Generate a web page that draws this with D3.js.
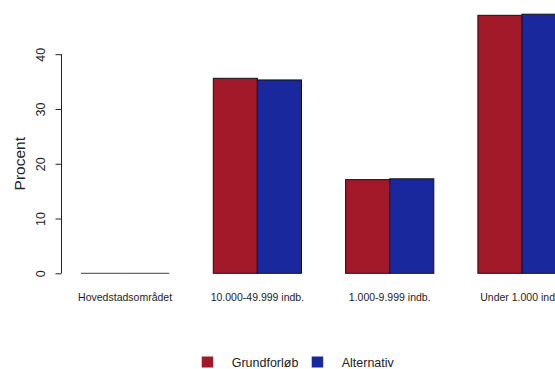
<!DOCTYPE html>
<html>
<head>
<meta charset="utf-8">
<script src="https://cdn.jsdelivr.net/npm/d3@7"></script>
<style>
  body { margin: 0; background: #fff; }
  text { font-family: "Liberation Sans", Arial, sans-serif; }
</style>
</head>
<body>
<svg id="chart" width="555" height="369"></svg>
<script>
var categories = ['Hovedstadsområdet', '10.000-49.999 indb.', '1.000-9.999 indb.', 'Under 1.000 indb.']
var series = ['Grundforløb', 'Alternativ']
var grundforlob = [0, 35.6, 17.1, 47.1]
var alternativ = [0, 35.3, 17.25, 47.3]
var yTicks = [0, 10, 20, 30, 40]
var colors = ['#A2192A', '#19289D']

var svg = d3.select('#chart')

// R style barplot: bar unit = 1, groups of 2 bars with 1 bar gap
var x = d3.scaleLinear().domain([0, 1]).range([36.9, 36.9 + 44.1])
var y = d3.scaleLinear().domain([0, 40]).range([273.3, 54.2])

var data = []
categories.forEach(function(c, i){
  [grundforlob, alternativ].forEach(function(s, j){
    data.push({cat: c, series: j, value: s[i], pos: 1 + i*3 + j})
  })
})

svg.append('g').selectAll('rect').data(data.filter(function(d){ return d.value > 0 })).enter()
  .append('rect')
  .attr('x', function(d){ return x(d.pos) })
  .attr('width', function(d){ return x(d.pos + 1) - x(d.pos) })
  .attr('y', function(d){ return y(d.value) })
  .attr('height', function(d){ return y(0) - y(d.value) })
  .attr('fill', function(d){ return colors[d.series] })
  .attr('stroke', '#111')
  .attr('stroke-width', 1)

// zero-height bars show as a grey line
var zeros = data.filter(function(d){ return d.value === 0 })
svg.append('g').selectAll('line').data(zeros).enter()
  .append('line')
  .attr('x1', function(d){ return x(d.pos) }).attr('x2', function(d){ return x(d.pos + 1) })
  .attr('y1', y(0)).attr('y2', y(0))
  .attr('stroke', '#666').attr('stroke-width', 1.3)

// y axis
var yAxis = d3.axisLeft(y).tickValues(yTicks).tickSize(6).tickPadding(6)
var gy = svg.append('g').attr('transform', 'translate(61.5,0)').call(yAxis)
gy.select('.domain').attr('stroke', '#222').attr('d', 'M0,' + y(0) + 'V' + y(40))
gy.selectAll('.tick line').attr('stroke', '#222')
gy.selectAll('.tick text')
  .attr('font-size', 12.5)
  .attr('fill', '#222')
  .attr('transform', 'rotate(-90,-13,0)')
  .attr('x', -13).attr('y', -4)
  .attr('text-anchor', 'middle')
  .attr('dy', '0')

svg.append('text')
  .attr('transform', 'translate(25,' + ((y(0) + y(40)) / 2) + ') rotate(-90)')
  .attr('text-anchor', 'middle')
  .attr('font-size', 15.5)
  .attr('fill', '#222')
  .text('Procent')

// category labels
svg.append('g').selectAll('text').data(categories).enter()
  .append('text')
  .attr('x', function(d, i){ return x(2 + i*3) })
  .attr('y', 301)
  .attr('text-anchor', 'middle')
  .attr('font-size', 10.5)
  .attr('fill', '#222')
  .text(function(d){ return d })

// legend
var legX = [201.7, 311.7]
var leg = svg.append('g').selectAll('g').data(series).enter()
  .append('g')
  .attr('transform', function(d, i){ return 'translate(' + legX[i] + ',356.5)' })
leg.append('rect')
  .attr('width', 11.5).attr('height', 11)
  .attr('fill', function(d, i){ return colors[i] })
leg.append('text')
  .attr('x', 30).attr('y', 10)
  .attr('font-size', 12.5)
  .attr('fill', '#222')
  .text(function(d){ return d })
</script>
</body>
</html>
